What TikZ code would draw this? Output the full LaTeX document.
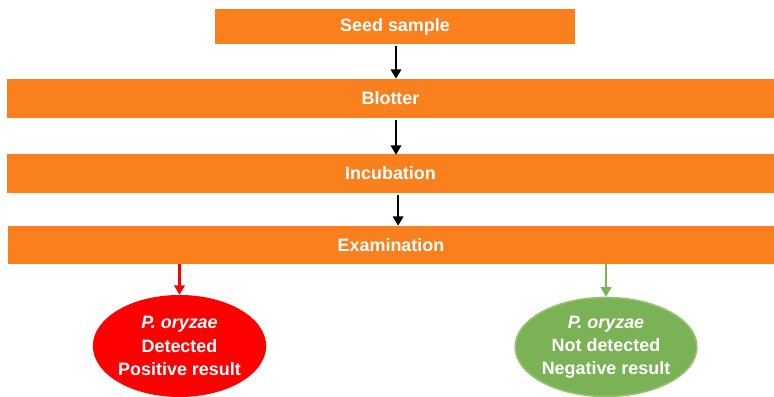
\documentclass[tikz,border=0pt]{standalone}
\usepackage{fontspec}
\setmainfont{Liberation Sans}
\usetikzlibrary{arrows.meta, shapes.geometric}
\definecolor{stageorange}{RGB}{249,128,28}
\definecolor{posred}{RGB}{255,0,0}
\definecolor{neggreen}{RGB}{122,178,85}
\definecolor{negedge}{RGB}{150,196,110}
\tikzset{
    stage/.style={fill=stageorange, text=white, inner sep=0pt, font=\fontsize{17}{20}\selectfont\bfseries},
    result/.style={ellipse, inner sep=0pt, text=white, align=center, font=\fontsize{17}{22}\selectfont\bfseries},
    flow/.style={line width=2pt, -{Triangle[width=10pt,length=9pt]}}
}
\begin{document}
\begin{tikzpicture}
    \useasboundingbox (0, 0) rectangle (25.8, 13.233);

    \node[stage, minimum width=12cm, minimum height=1.167cm] (seed) at (13.167, 12.35) {Seed sample};
    \node[stage, minimum width=25.567cm, minimum height=1.3cm] (blotter) at (13.017, 9.95) {Blotter};
    \node[stage, minimum width=25.567cm, minimum height=1.3cm] (incub) at (13.017, 7.45) {Incubation};
    \node[stage, minimum width=25.533cm, minimum height=1.267cm] (exam) at (13.033, 5.067) {Examination};

    \node[result, fill=posred, minimum width=5.633cm, minimum height=3.4cm] (pos) at (5.983, 1.7)
        {\itshape P. oryzae\\Detected\\Positive result};
    \node[result, fill=neggreen, draw=negedge, line width=1.5pt, minimum width=5.55cm, minimum height=3.3cm] (neg) at (20.2, 1.667)
        {\itshape P. oryzae\\Not detected\\Negative result};

    \coordinate (axis) at (13.2, 0);
    \draw[flow] ([yshift=-2pt]axis |- seed.south) to (axis |- blotter.north);
    \draw[flow] ([yshift=-2pt]axis |- blotter.south) to ([yshift=-1pt]axis |- incub.north);
    \draw[flow] ([xshift=2pt, yshift=-2pt]axis |- incub.south) to ([xshift=2pt]axis |- exam.north);

    \draw[flow, posred] (pos |- exam.south) to (pos.north);
    \draw[flow, neggreen] (neg |- exam.south) to (neg.north);
\end{tikzpicture}
\end{document}
